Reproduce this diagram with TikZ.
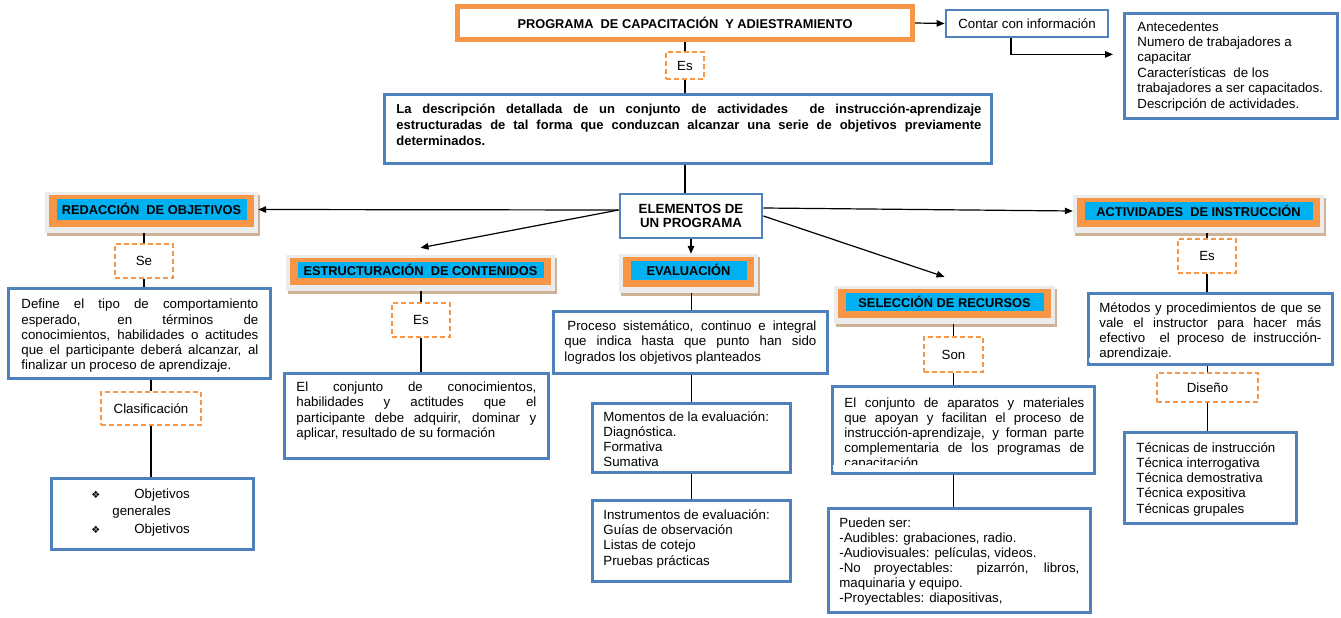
\documentclass[tikz,border=0pt]{standalone}
\usepackage{fontspec}
\setmainfont{Liberation Sans}
\newfontfamily\djv{DejaVu Sans}
\usetikzlibrary{arrows.meta}
\definecolor{bluec}{RGB}{79,129,189}
\definecolor{orangec}{RGB}{247,150,70}
\definecolor{cyanc}{RGB}{0,176,240}
\definecolor{shadc}{RGB}{205,178,150}
\definecolor{outc}{RGB}{236,236,236}
\newcommand\jl[1]{\makebox[\linewidth][s]{#1}\par}
\newcommand\tb[6]{\begin{minipage}[t][#2pt][t]{#1pt}\vspace*{#5pt}\hspace*{#3pt}\begin{minipage}[t]{\dimexpr#1pt-#3pt-#4pt\relax}#6\end{minipage}\end{minipage}}
\tikzset{
  bb/.style={draw=bluec, line width=2.8pt, fill=white, inner sep=0pt, anchor=north west},
  dbox/.style={draw=orangec, dash pattern=on 5pt off 3pt, line width=1.3pt, fill=white, inner sep=0pt},
  hdrbox/.style={fill=outc, inner sep=0pt},
  hdrtxt/.style={inner sep=0pt, font=\bfseries\fontsize{12.8}{14}\selectfont},
  conn/.style={draw=black, line width=1.2pt},
  arr/.style={conn, -{Triangle[length=8pt,width=6.5pt]}}
}
\newcommand\hdr[6]{%
  \fill[shadc] (#2+2,#3+3) rectangle (#4+2,#5+3);
  \node[hdrbox, minimum width={(#4-#2)*1pt}, minimum height={(#5-#3)*1pt}] (#1) at ({(#2+#4)/2},{(#3+#5)/2}) {};
  \fill[orangec] (#2+3.5,#3+3) rectangle (#4-4.5,#5-6);
  \fill[cyanc] (#2+11.5,#3+7) rectangle (#4-11.5,#5-13.5);
  \node[hdrtxt] (#1t) at ({(#2+#4)/2},{(#3+#5)/2-3.5}) {#6};}
\newcommand\dn[6]{%
  \node[dbox, minimum width={(#4-#2)*1pt}, minimum height={(#5-#3)*1pt}] (#1) at ({(#2+#4)/2},{(#3+#5)/2}) {#6};}
\begin{document}
\begin{tikzpicture}[x=1pt, y=-1pt, font=\fontsize{13.3}{15.2}\selectfont]
\useasboundingbox (0,0) rectangle (1341,618);
\fill[white] (0,0) rectangle (1341,618);

% title
\node[draw=orangec, line width=4pt, fill=white, inner sep=0pt, minimum width=456pt, minimum height=34pt,
      font=\bfseries\fontsize{12.8}{14}\selectfont] (title) at (685,23) {PROGRAMA\ \ DE CAPACITACIÓN\ \ Y ADIESTRAMIENTO};
\draw[orangec, line width=1.3pt] ([shift={(4,4)}]title.north west) rectangle ([shift={(-4,-4)}]title.south east);

\node[bb, anchor=center, minimum width=162pt, minimum height=27pt] (contar) at (1027,23.5) {Contar con información};

\node[bb] (ante) at (1123,12) {\tb{213}{105}{13}{2}{8.1}{\raggedright\fontsize{13.3}{15.4}\selectfont
Antecedentes\par Numero de trabajadores a\par capacitar\par Características\ \ de los\par trabajadores a ser capacitados.\par Descripción de actividades.}};

\dn{es1}{666}{52}{704}{79}{Es}

\node[bb] (desc) at (383,93) {\tb{607}{69}{12}{10}{9.8}{\bfseries\fontsize{13}{15.8}\selectfont
\jl{La descripción detallada de un conjunto de actividades\ \ de instrucción-aprendizaje}
\jl{estructuradas de tal forma que conduzcan alcanzar una serie de objetivos previamente}
determinados.}};

\node[bb, anchor=center, minimum width=142pt, minimum height=44pt, align=center,
      font=\bfseries\fontsize{13.3}{14.4}\selectfont] (elem) at (691,216) {ELEMENTOS DE\\UN PROGRAMA};

% headers
\hdr{redac}{45}{192}{258}{233}{REDACCIÓN\ \ DE OBJETIVOS}
\hdr{estr}{286}{255}{555}{291}{ESTRUCTURACIÓN\ \ DE CONTENIDOS}
\hdr{eval}{619}{254}{758}{293}{EVALUACIÓN}
\hdr{selc}{834}{286}{1055}{324}{SELECCIÓN DE RECURSOS}
\hdr{actv}{1073}{195}{1324}{233}{ACTIVIDADES\ \ DE INSTRUCCIÓN}

% left column
\dn{se}{115}{244}{173}{278}{Se}
\node[bb] (define) at (7,287) {\tb{262}{90}{13}{12}{10.8}{
\jl{Define el tipo de comportamiento}
\jl{esperado, en términos de}
\jl{conocimientos, habilidades o actitudes}
\jl{que el participante deberá alcanzar, al}
finalizar un proceso de aprendizaje.}};
\dn{clas}{101}{392}{201}{425}{Clasificación}
\node[bb] (obj) at (50,477) {\tb{202}{71}{0}{0}{10}{\raggedright\fontsize{13.3}{17.8}\selectfont
\hspace*{40pt}\makebox[43pt][l]{\djv\fontsize{10}{10}\selectfont ❖}Objetivos\par
\hspace*{61pt}generales\par
\hspace*{40pt}\makebox[43pt][l]{\djv\fontsize{10}{10}\selectfont ❖}Objetivos}};

% estructuracion column
\dn{es2}{392}{303}{450}{337}{Es}
\node[bb] (conj) at (283,372) {\tb{264}{85}{12}{12}{8.1}{\fontsize{13.3}{15.5}\selectfont
\jl{El conjunto de conocimientos,}
\jl{habilidades y actitudes que el}
\jl{participante debe adquirir, dominar y}
aplicar, resultado de su formación}};

% evaluacion column
\node[bb] (proc) at (552,310) {\tb{274}{62}{11}{11}{9.4}{\fontsize{13.3}{15.3}\selectfont
\jl{\hspace*{3pt}Proceso sistemático, continuo e integral}
\jl{que indica hasta que punto han sido}
logrados los objetivos planteados}};
\node[bb] (mom) at (591,402) {\tb{198}{69}{11}{4}{8.1}{\raggedright\fontsize{13.3}{15}\selectfont
Momentos de la evaluación:\par Diagnóstica.\par Formativa\par Sumativa}};
\node[bb] (inst) at (591,499) {\tb{198}{81}{11}{4}{9.1}{\raggedright\fontsize{13.3}{15.3}\selectfont
Instrumentos de evaluación:\par Guías de observación\par Listas de cotejo\par Pruebas prácticas}};

% seleccion column
\dn{son}{924}{337}{983}{372}{Son}
\node[bb] (apar) at (831,385) {\tb{262}{87}{12}{10}{11.8}{\fontsize{13.3}{15}\selectfont
\jl{El conjunto de aparatos y materiales}
\jl{que apoyan y facilitan el proceso de}
\jl{instrucción-aprendizaje, y forman parte}
\jl{complementaria de los programas de}
capacitación}};
\fill[white] (832.5,465.3) rectangle (1091.5,470.5);
\node[bb] (pued) at (827,507) {\tb{262}{104}{11}{11}{9.8}{\fontsize{13.3}{15}\selectfont
Pueden ser:\par -Audibles: grabaciones, radio.\par -Audiovisuales: películas, videos.\par
\jl{-No proyectables: pizarrón, libros,}
maquinaria y equipo.\par -Proyectables: diapositivas,}};

% actividades column
\dn{es3}{1178}{239}{1236}{273}{Es}
\node[bb] (met) at (1087,292) {\tb{244}{71}{11}{11}{9.1}{\fontsize{13.3}{15.2}\selectfont
\jl{Métodos y procedimientos de que se}
\jl{vale el instructor para hacer más}
\jl{efectivo\ \ el proceso de instrucción-}
aprendizaje.}};
\fill[white] (1088.5,357.6) rectangle (1329.5,361.5);
\dn{dis}{1157}{373}{1258}{402}{Diseño}
\node[bb] (tec) at (1123,431) {\tb{172}{91}{12}{2}{10.1}{\raggedright\fontsize{13.3}{15.2}\selectfont
Técnicas de instrucción\par Técnica interrogativa\par Técnica demostrativa\par Técnica expositiva\par Técnicas grupales}};

% connectors
\draw[conn] (title.south) -- (es1.north);
\draw[conn] (es1.south) -- (es1.south |- desc.north);
\draw[conn] (es1.south |- desc.south) -- (es1.south |- elem.north);
\draw[arr] (title.east) -- (contar.west);
\draw[arr] ([xshift=-16pt]contar.south) |- ([xshift=-10pt,yshift=11.5pt]ante.west);

\draw[arr] ([yshift=6pt]elem.west) -- ([yshift=3pt]redac.east);
\draw[arr] ([yshift=6pt]elem.west) -- ([yshift=7pt]estr.north);
\draw[arr] (elem.south) -- (elem.south |- eval.north);
\draw[arr] (elem.east) -- ([yshift=9pt]selc.north);
\draw[arr] ([yshift=8pt]elem.east) -- ([yshift=3pt]actv.west);

\draw[conn] (se.north |- redac.south) -- (se.north);
\draw[conn] (se.south) -- (se.south |- define.north);
\draw[conn] (clas.north |- define.south) -- (clas.north);
\draw[conn] (clas.south) -- (clas.south |- obj.north);

\draw[conn] (es2.north |- estr.south) -- (es2.north);
\draw[conn] (es2.south) -- (es2.south |- conj.north);

\draw[conn] (mom.north |- eval.south) -- (mom.north |- proc.north);
\draw[conn] (mom.north |- proc.south) -- (mom.north);
\draw[conn] (mom.south) -- (inst.north);

\draw[conn] (son.north |- selc.south) -- (son.north);
\draw[conn] (son.south) -- (son.south |- apar.north);
\draw[conn] (son.south |- apar.south) -- (son.south |- pued.north);

\draw[conn] (es3.north |- actv.south) -- (es3.north);
\draw[conn] (es3.south) -- (es3.south |- met.north);
\draw[conn] (dis.north |- met.south) -- (dis.north);
\draw[conn] (dis.south) -- (dis.south |- tec.north);
\end{tikzpicture}
\end{document}
